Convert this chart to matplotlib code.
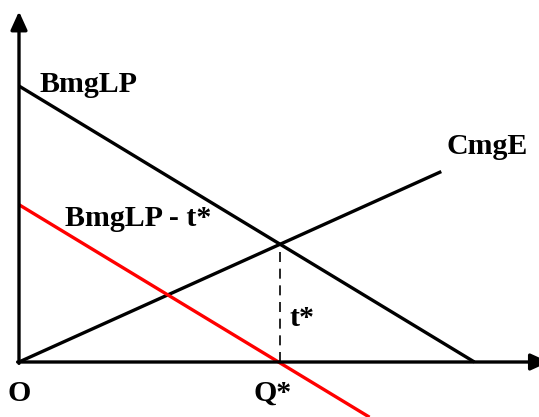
import matplotlib.pyplot as plt

# curve end points (units, origin at O)
bmg_q = [0, 16.5]
bmg_p = [10.0, 0]
cmg_q = [0, 15.3]
cmg_p = [0, 6.9]
tax_q = [0, 12.7]
tax_p = [5.7, -2.0]
q_star = 9.46
p_star = 4.27

fig = plt.figure(figsize=(5.39, 4.17), dpi=100)
ax = fig.add_axes([0, 0, 1, 1])
ax.set_xlim(-19 / 27.6, 520 / 27.6)
ax.set_ylim(-55 / 27.6, 362 / 27.6)
ax.axis('off')

# axes with arrows
arrow = dict(arrowstyle='-|>,head_length=1.1,head_width=0.5',
             lw=2.4, color='black', shrinkA=0, shrinkB=0)
ax.annotate('', xy=(0, 12.7), xytext=(0, -0.05), arrowprops=arrow,
            annotation_clip=False)
ax.annotate('', xy=(19.2, 0), xytext=(-0.05, 0), arrowprops=arrow,
            annotation_clip=False)

ax.plot(bmg_q, bmg_p, color='black', lw=2.4, solid_capstyle='butt')
ax.plot(cmg_q, cmg_p, color='black', lw=2.4, solid_capstyle='butt')
ax.plot(tax_q, tax_p, color='red', lw=2.4, solid_capstyle='butt')
ax.plot([q_star, q_star], [0, p_star], color='black', lw=1.2,
        dashes=(6, 4))

font = dict(family='Liberation Serif', fontweight='bold', fontsize=21.5)
ax.text(0.76, 9.78, 'BmgLP', ha='left', va='baseline', **font)
ax.text(15.5, 7.55, 'CmgE', ha='left', va='baseline', **font)
ax.text(1.67, 4.93, 'BmgLP - t*', ha='left', va='baseline', **font)
ax.text(9.8, 1.3, 't*', ha='left', va='baseline', **font)
ax.text(-0.4, -1.4, 'O', ha='left', va='baseline', **font)
ax.text(8.5, -1.4, 'Q*', ha='left', va='baseline', **font)

fig.savefig('out.png', dpi=100)
